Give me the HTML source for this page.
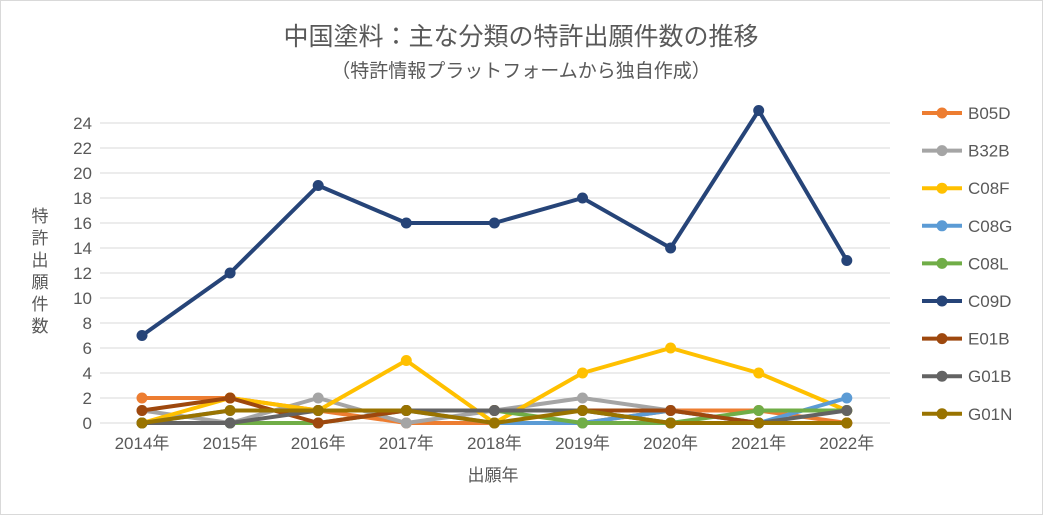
<!DOCTYPE html>
<html><head><meta charset="utf-8"><style>
body{margin:0;background:#fff;}
svg text{font-family:"Liberation Sans","Noto Sans CJK JP",sans-serif;fill:#595959;}
</style></head><body>
<svg width="1043" height="515">
<rect x="0.5" y="0.5" width="1042" height="514" fill="#fff" stroke="#d9d9d9"/>
<text x="521" y="45" font-size="25" text-anchor="middle">中国塗料：主な分類の特許出願件数の推移</text>
<text x="521" y="77" font-size="19" text-anchor="middle">（特許情報プラットフォームから独自作成）</text>
<g id="grid"></g>
<g id="yt"></g>
<g id="xt"></g>
<text x="493" y="481" font-size="17" text-anchor="middle">出願年</text>
<g font-size="17">
<text x="40" y="222" text-anchor="middle">特</text><text x="40" y="244" text-anchor="middle">許</text>
<text x="40" y="266" text-anchor="middle">出</text><text x="40" y="288" text-anchor="middle">願</text>
<text x="40" y="310" text-anchor="middle">件</text><text x="40" y="332" text-anchor="middle">数</text></g>
<g id="series"></g>
<g id="legend"></g>
</svg>
<script>
const years=["2014年","2015年","2016年","2017年","2018年","2019年","2020年","2021年","2022年"];
const yTicks=[0,2,4,6,8,10,12,14,16,18,20,22,24];
const names=["B05D","B32B","C08F","C08G","C08L","C09D","E01B","G01B","G01N"];
const colors=["#ed7d31","#a5a5a5","#ffc000","#5b9bd5","#70ad47","#264478","#9e480e","#636363","#997300"];
const B05D=[2,2,1,0,0,0,1,1,0];
const B32B=[1,0,2,0,1,2,1,0,0];
const C08F=[0,2,1,5,0,4,6,4,1];
const C08G=[0,1,1,1,0,0,1,0,2];
const C08L=[0,0,0,1,1,0,0,1,1];
const C09D=[7,12,19,16,16,18,14,25,13];
const E01B=[1,2,0,1,1,1,1,0,0];
const G01B=[0,0,1,1,1,1,0,0,1];
const G01N=[0,1,1,1,0,1,0,0,0];
const seriesVals=[B05D,B32B,C08F,C08G,C08L,C09D,E01B,G01B,G01N];
const NS="http://www.w3.org/2000/svg";
const xs=i=>142+i*88.1, ys=v=>423-v*12.5;
function mk(t,a,p){const e=document.createElementNS(NS,t);for(const k in a)e.setAttribute(k,a[k]);p.appendChild(e);return e;}
const grid=document.getElementById('grid'),yt=document.getElementById('yt'),xt=document.getElementById('xt');
yTicks.forEach(v=>{
 const l=mk('line',{x1:100,x2:890,y1:ys(v),y2:ys(v),stroke:'#d9d9d9','stroke-width':1},grid);
 
 
 const t=mk('text',{x:92,y:ys(v)+6,'font-size':17,'text-anchor':'end'},yt);t.textContent=v;
 
 
});
years.forEach((y,i)=>{const t=mk('text',{x:xs(i),y:449,'font-size':17,'text-anchor':'middle'},xt);t.textContent=y;
 
 });
const sg=document.getElementById('series'),lg=document.getElementById('legend');
seriesVals.forEach((vals,s)=>{
 const g=mk('g',{},sg);
 
 
 mk('polyline',{points:vals.map((v,i)=>xs(i)+','+ys(v)).join(' '),fill:'none',stroke:colors[s],'stroke-width':4,'stroke-linejoin':'round'},g);
 vals.forEach((v,i)=>{const c=mk('circle',{cx:xs(i),cy:ys(v),r:5.5,fill:colors[s]},g);
  
  });
 const ly=113+s*37.6;
 const le=mk('g',{},lg);
 
 
 mk('line',{x1:922,x2:962,y1:ly,y2:ly,stroke:colors[s],'stroke-width':4},le);
 mk('circle',{cx:942,cy:ly,r:5.5,fill:colors[s]},le);
 const t=mk('text',{x:968,y:ly+6,'font-size':17},le);t.textContent=names[s];
});
</script>
</body></html>
